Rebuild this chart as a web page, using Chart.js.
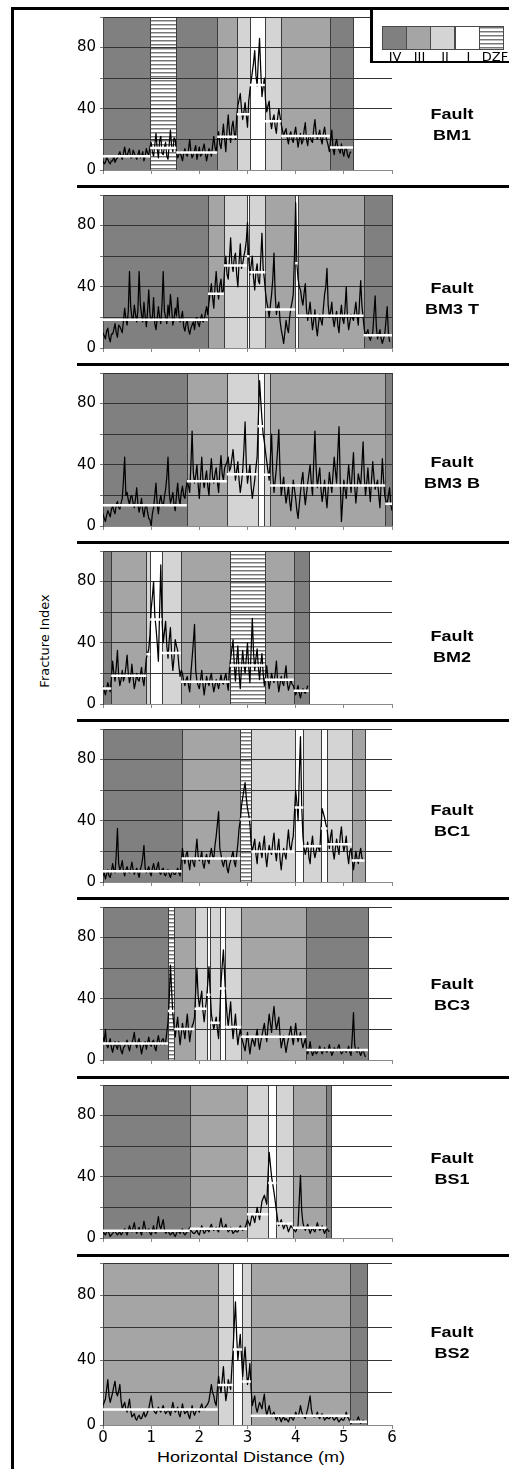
<!DOCTYPE html>
<html lang="en">

<head>
    <meta charset="UTF-8">
    <title>Fracture Index | Faults</title>
    <script src="https://cdn.jsdelivr.net/npm/chart.js"></script>
    <style>
        body {
            margin: 0;
            width: 509px;
            height: 1469px;
            position: relative;
            overflow: hidden;
            background: #fff;
            font-family: 'Liberation Sans', Arial, sans-serif;
        }

        canvas { position: absolute; left: 0; }

        .linha { position: absolute; background: #000; z-index: 3; }

        .texto {
            position: absolute;
            white-space: nowrap;
            color: #000;
            transform: translate(-50%, -50%) scaleX(1.2);
        }

        .falha { font-weight: bold; font-size: 15px; line-height: 15px; }

        #legenda {
            position: absolute;
            left: 370px;
            top: 7px;
            width: 139px;
            height: 56px;
            box-sizing: border-box;
            border-left: 3px solid #000;
            border-bottom: 2.5px solid #000;
            background: #fff;
            z-index: 2;
        }

        .amostra {
            position: absolute;
            top: 19px;
            width: 25px;
            height: 24px;
            box-sizing: border-box;
            border: 1px solid #4a4a4a;
        }

        .rotuloZona {
            position: absolute;
            top: 49px;
            transform: translate(-50%, -50%);
            font-family: 'DejaVu Sans', sans-serif;
            font-size: 13px;
            line-height: 13px;
            color: #000;
        }
    </style>
</head>

<body>
    <!-- moldura da figura -->
    <div class="linha" style="left:11px; top:7px; width:498px; height:3px;"></div>
    <div class="linha" style="left:11px; top:7px; width:3px; height:1462px;"></div>

    <!-- legenda das zonas -->
    <div id="legenda"></div>

    <div style="position:absolute; left:44px; top:641px; white-space:nowrap; font-family:'DejaVu Sans', sans-serif; font-size:13px; color:#000; transform: translate(-50%, -50%) rotate(-90deg);">Fracture Index</div>
    <div class="texto" style="left:251px; top:1456px; font-size:15px;">Horizontal Distance (m)</div>

    <div id="paineis"></div>
</body>

</html>

<script>
    // distancia entre leituras (m)
    const passo = 0.025;

    const nomesFalhas = ['BM1', 'BM3 T', 'BM3 B', 'BM2', 'BC1', 'BC3', 'BS1', 'BS2'];
    const ticksY = [0, 40, 80];
    const ticksX = [0, 1, 2, 3, 4, 5, 6];
    const nomesZonas = ['IV', 'III', 'II', 'I', 'DZF'];

    // Fault BM1
    const indiceBM1 = [6, 4, 5, 8, 7, 5, 4, 6, 6, 9, 5, 7, 8, 10, 12, 9, 7, 11, 15, 10,
        9, 12, 14, 8, 8, 13, 11, 9, 7, 10, 13, 8, 9, 12, 6, 9, 14, 11, 10, 15,
        18, 12, 9, 16, 24, 14, 8, 19, 22, 11, 10, 15, 18, 9, 7, 17, 26, 15, 12, 21,
        20, 11, 8, 10, 12, 9, 6, 11, 14, 10, 9, 13, 20, 12, 8, 10, 13, 16, 7, 11,
        15, 9, 10, 14, 17, 11, 6, 10, 14, 12, 9, 16, 22, 15, 12, 19, 25, 17, 14, 22,
        30, 20, 12, 26, 36, 25, 18, 28, 32, 24, 20, 35, 42, 46, 50, 40, 33, 38, 44, 36,
        28, 45, 52, 58, 64, 70, 78, 62, 55, 72, 86, 65, 48, 54, 60, 45, 38, 42, 45, 32,
        27, 33, 36, 28, 24, 34, 40, 35, 30, 26, 22, 25, 27, 21, 17, 23, 25, 20, 18, 24,
        28, 21, 15, 20, 24, 17, 19, 26, 31, 20, 16, 23, 22, 19, 18, 27, 33, 24, 20, 23,
        26, 20, 17, 24, 28, 22, 19, 16, 12, 20, 26, 14, 10, 17, 20, 15, 13, 11, 17, 12,
        9, 14, 15, 10, 8, 11, 12];
    const limitesBM1 = [0, 0.98, 1.52, 2.37, 2.78, 3.05, 3.36, 3.70, 4.71, 5.19];
    const zonasBM1 = ['IV', 'DZF', 'IV', 'III', 'II', 'I', 'II', 'III', 'IV'];
    const mediasBM1 = [9, 14.3, 11.5, 21.8, 36.5, 55.5, 31.9, 22.2, 14.7];

    // Fault BM3 T
    const indiceBM3T = [10, 8, 6, 11, 13, 7, 4, 9, 9, 12, 16, 10, 7, 15, 14, 12, 10, 18, 26, 19,
        15, 24, 50, 27, 20, 18, 28, 22, 17, 25, 50, 29, 22, 17, 30, 21, 14, 24, 38, 22,
        18, 20, 33, 16, 12, 19, 27, 20, 16, 28, 50, 24, 20, 16, 28, 21, 35, 26, 15, 19,
        26, 21, 33, 22, 17, 20, 24, 14, 11, 16, 18, 12, 9, 13, 15, 17, 12, 19, 20, 16,
        14, 19, 22, 17, 18, 23, 27, 22, 30, 36, 42, 33, 26, 40, 50, 38, 32, 41, 45, 35,
        38, 52, 60, 48, 45, 58, 72, 55, 50, 59, 62, 48, 40, 56, 68, 52, 55, 60, 64, 70,
        82, 58, 48, 54, 60, 46, 38, 50, 55, 44, 42, 58, 75, 52, 45, 36, 30, 26, 20, 28,
        35, 45, 62, 35, 22, 27, 30, 18, 12, 8, 3, 10, 18, 13, 10, 20, 26, 30, 35, 60,
        95, 55, 45, 40, 38, 32, 28, 36, 42, 25, 18, 24, 30, 20, 12, 18, 25, 14, 8, 16,
        22, 18, 15, 26, 35, 40, 52, 28, 20, 24, 30, 19, 14, 20, 24, 15, 10, 21, 28, 19,
        16, 26, 40, 20, 12, 17, 22, 20, 18, 24, 30, 21, 15, 30, 44, 28, 20, 12, 8, 10,
        12, 7, 5, 8, 10, 22, 34, 14, 6, 9, 12, 6, 3, 6, 9, 18, 27, 10, 4];
    const limitesBM3T = [0, 2.18, 2.51, 2.99, 3.04, 3.37, 3.99, 4.04, 5.41, 6.0];
    const zonasBM3T = ['IV', 'III', 'II', 'I', 'II', 'III', 'I', 'III', 'IV'];
    const mediasBM3T = [18.5, 35.4, 54, 60, 49.5, 25.2, 55.4, 21, 8.3];

    // Fault BM3 B
    const indiceBM3B = [8, 5, 3, 7, 10, 8, 6, 11, 13, 10, 8, 14, 16, 12, 11, 15, 18, 30, 45, 20,
        22, 17, 14, 19, 20, 15, 12, 18, 25, 14, 9, 13, 18, 10, 6, 12, 14, 9, 5, 4,
        0, 8, 12, 20, 28, 14, 8, 16, 20, 15, 13, 19, 24, 32, 45, 22, 15, 18, 22, 14,
        10, 20, 28, 18, 14, 22, 26, 20, 18, 25, 30, 26, 22, 40, 62, 35, 28, 33, 40, 27,
        18, 32, 45, 30, 25, 31, 36, 26, 20, 35, 44, 32, 28, 34, 38, 29, 22, 36, 46, 34,
        30, 38, 40, 42, 45, 36, 38, 44, 50, 40, 30, 36, 42, 30, 22, 28, 36, 50, 68, 40,
        28, 34, 40, 26, 18, 24, 30, 38, 45, 70, 95, 82, 70, 60, 55, 48, 42, 36, 30, 45,
        60, 35, 22, 30, 38, 50, 63, 36, 20, 26, 32, 22, 15, 20, 26, 16, 10, 20, 30, 24,
        18, 10, 5, 14, 22, 30, 35, 22, 14, 21, 28, 34, 40, 28, 20, 42, 62, 38, 25, 32,
        38, 24, 16, 22, 30, 20, 12, 24, 35, 28, 22, 34, 45, 36, 28, 48, 65, 30, 3, 16,
        30, 24, 18, 30, 40, 30, 22, 36, 48, 26, 15, 24, 34, 30, 26, 40, 55, 32, 20, 28,
        38, 26, 16, 30, 42, 32, 24, 27, 30, 20, 12, 28, 44, 30, 20, 16, 15, 20, 25, 14,
        10];
    const limitesBM3B = [0, 1.74, 2.57, 3.21, 3.34, 3.47, 5.86, 6.0];
    const zonasBM3B = ['IV', 'III', 'II', 'I', 'II', 'III', 'IV'];
    const mediasBM3B = [13.6, 29.2, 33.9, 65.2, 33.5, 26.4, 14.6];

    // Fault BM2
    const indiceBM2 = [12, 9, 6, 10, 14, 11, 8, 17, 28, 20, 15, 24, 35, 18, 12, 16, 22, 15, 18, 24,
        32, 20, 14, 18, 26, 17, 10, 14, 20, 16, 15, 19, 24, 16, 12, 21, 30, 33, 36, 45,
        62, 70, 80, 58, 50, 40, 28, 60, 91, 55, 40, 47, 54, 38, 30, 42, 50, 32, 22, 30,
        42, 38, 35, 25, 18, 22, 20, 15, 12, 16, 18, 12, 8, 20, 30, 40, 52, 22, 15, 12,
        10, 16, 22, 13, 6, 12, 18, 14, 12, 17, 20, 13, 8, 12, 16, 13, 10, 15, 19, 14,
        13, 17, 20, 14, 9, 22, 30, 36, 42, 26, 15, 28, 38, 20, 10, 24, 35, 26, 20, 30,
        40, 24, 14, 35, 56, 34, 22, 30, 36, 24, 16, 26, 33, 20, 12, 18, 25, 16, 10, 15,
        20, 16, 14, 20, 28, 15, 8, 13, 18, 14, 12, 19, 25, 14, 9, 12, 16, 13, 12, 9,
        6, 9, 12, 7, 4, 8, 10, 8, 7, 9, 12];
    const limitesBM2 = [0, 0.17, 0.90, 0.98, 1.22, 1.62, 2.63, 3.36, 3.96, 4.27];
    const zonasBM2 = ['IV', 'III', 'II', 'I', 'II', 'III', 'DZF', 'III', 'IV'];
    const mediasBM2 = [10.2, 18.5, 32.5, 55.2, 33.3, 14.6, 25.2, 15.8, 8.7];

    // Fault BC1
    const indiceBC1 = [4, 6, 2, 5, 8, 4, 3, 7, 12, 8, 6, 18, 35, 12, 8, 10, 14, 7, 4, 8,
        10, 7, 6, 9, 13, 8, 5, 7, 9, 6, 3, 8, 11, 16, 24, 9, 6, 8, 10, 6,
        4, 9, 12, 8, 7, 10, 13, 6, 5, 8, 9, 5, 4, 7, 8, 5, 3, 6, 7, 5,
        5, 7, 9, 6, 4, 14, 22, 16, 12, 18, 20, 13, 8, 15, 16, 12, 10, 20, 28, 17,
        14, 16, 20, 12, 9, 15, 18, 14, 12, 18, 22, 17, 15, 24, 30, 38, 46, 22, 18, 13,
        10, 14, 16, 9, 6, 11, 14, 17, 20, 13, 10, 18, 25, 35, 40, 50, 55, 60, 65, 55,
        48, 44, 38, 25, 20, 24, 28, 18, 12, 22, 26, 20, 16, 24, 30, 17, 10, 18, 24, 20,
        18, 26, 32, 20, 14, 22, 28, 15, 8, 16, 22, 18, 15, 26, 34, 24, 20, 26, 30, 45,
        60, 52, 40, 70, 95, 50, 30, 22, 18, 22, 26, 16, 12, 24, 30, 20, 16, 20, 24, 22,
        20, 35, 48, 45, 42, 38, 35, 28, 22, 30, 34, 20, 15, 22, 28, 22, 18, 30, 36, 26,
        20, 24, 30, 18, 12, 20, 22, 14, 8, 14, 20, 15, 12, 18, 22, 16, 14];
    const limitesBC1 = [0, 1.63, 2.85, 3.08, 3.98, 4.16, 4.53, 4.66, 5.16, 5.43];
    const zonasBC1 = ['IV', 'III', 'DZF', 'II', 'I', 'II', 'I', 'II', 'III'];
    const mediasBC1 = [7.1, 15.4, 41, 20, 48.7, 23.3, 34.9, 24.7, 14];

    // Fault BC3
    const indiceBC3 = [15, 12, 20, 10, 8, 11, 14, 8, 5, 9, 12, 9, 7, 12, 10, 6, 4, 8, 9, 11,
        13, 9, 6, 10, 11, 14, 18, 11, 8, 12, 14, 9, 4, 8, 10, 12, 7, 11, 15, 10,
        9, 12, 13, 8, 6, 12, 16, 11, 10, 13, 14, 10, 12, 18, 25, 40, 62, 45, 30, 22,
        15, 22, 28, 18, 10, 17, 24, 19, 14, 22, 30, 20, 12, 18, 22, 24, 28, 45, 60, 42,
        35, 40, 45, 32, 25, 33, 40, 50, 61, 45, 30, 25, 20, 24, 28, 20, 14, 30, 50, 62,
        72, 55, 40, 30, 22, 30, 38, 24, 14, 22, 30, 18, 10, 16, 20, 15, 12, 9, 6, 12,
        18, 10, 4, 10, 14, 12, 9, 15, 20, 12, 7, 12, 16, 20, 24, 17, 12, 22, 30, 24,
        18, 28, 35, 26, 20, 24, 28, 16, 8, 12, 16, 10, 5, 10, 14, 18, 22, 15, 10, 17,
        24, 16, 12, 15, 18, 12, 8, 11, 14, 8, 4, 7, 12, 6, 3, 5, 7, 4, 5, 7,
        9, 6, 4, 6, 8, 6, 5, 7, 10, 6, 3, 5, 8, 7, 6, 8, 10, 6, 4, 5,
        7, 6, 5, 7, 9, 5, 3, 15, 31, 10, 6, 5, 8, 5, 3, 5, 7, 4, 2];
    const limitesBC3 = [0, 1.35, 1.48, 1.90, 2.15, 2.23, 2.42, 2.54, 2.87, 4.22, 5.50];
    const zonasBC3 = ['IV', 'DZF', 'III', 'II', 'I', 'II', 'I', 'II', 'III', 'IV'];
    const mediasBC3 = [10.8, 32, 20.3, 33.5, 42.6, 24.3, 46.7, 21.5, 15.2, 6.5];

    // Fault BS1
    const indiceBS1 = [4, 3, 2, 4, 5, 3, 1, 2, 3, 4, 5, 3, 2, 3, 4, 2, 3, 5, 6, 4,
        2, 5, 8, 5, 4, 7, 10, 5, 3, 5, 7, 4, 2, 6, 11, 7, 4, 5, 6, 3,
        2, 5, 8, 4, 3, 9, 14, 8, 6, 9, 12, 6, 3, 4, 5, 3, 2, 3, 4, 2,
        1, 3, 5, 4, 3, 5, 6, 3, 2, 3, 4, 5, 7, 5, 4, 3, 3, 4, 5, 3,
        2, 5, 8, 5, 3, 4, 6, 5, 4, 7, 9, 6, 5, 6, 7, 5, 4, 9, 13, 8,
        6, 7, 9, 6, 4, 5, 7, 5, 3, 4, 5, 4, 4, 6, 8, 6, 5, 6, 7, 9,
        12, 10, 8, 12, 16, 13, 10, 15, 20, 16, 12, 18, 24, 26, 28, 25, 22, 40, 56, 48,
        40, 35, 30, 24, 18, 12, 8, 10, 12, 9, 6, 8, 10, 7, 4, 6, 8, 7, 6, 5,
        4, 6, 8, 25, 41, 18, 10, 7, 5, 7, 9, 6, 3, 5, 7, 5, 4, 7, 10, 7,
        5, 6, 8, 5, 3, 5, 6, 5, 4];
    const limitesBS1 = [0, 1.80, 2.99, 3.43, 3.60, 3.94, 4.64, 4.74];
    const zonasBS1 = ['IV', 'III', 'II', 'I', 'II', 'III', 'IV'];
    const mediasBS1 = [4.7, 6.1, 15.5, 36, 9.4, 6.7, null];

    // Fault BS2
    const indiceBS2 = [12, 14, 16, 22, 28, 18, 14, 17, 20, 24, 27, 20, 18, 21, 25, 15, 10, 12, 14, 10,
        8, 12, 16, 9, 5, 6, 7, 4, 3, 5, 6, 4, 4, 6, 8, 5, 6, 8, 10, 14,
        18, 12, 9, 8, 7, 9, 11, 9, 8, 10, 12, 9, 7, 8, 10, 8, 6, 10, 14, 10,
        8, 9, 11, 7, 5, 9, 13, 9, 7, 8, 9, 6, 4, 8, 12, 8, 6, 8, 10, 9,
        8, 11, 13, 10, 9, 11, 12, 13, 15, 20, 25, 20, 18, 14, 12, 22, 30, 24, 20, 28,
        36, 24, 15, 20, 28, 25, 22, 35, 46, 62, 76, 55, 40, 48, 56, 42, 30, 40, 48, 35,
        25, 30, 38, 22, 12, 15, 18, 11, 8, 11, 14, 12, 10, 15, 19, 10, 6, 9, 12, 8,
        5, 7, 8, 5, 3, 5, 6, 4, 2, 4, 5, 3, 4, 3, 2, 4, 6, 4, 3, 5,
        8, 6, 5, 8, 12, 8, 6, 5, 4, 7, 10, 14, 18, 10, 6, 5, 5, 6, 8, 5,
        4, 6, 7, 5, 3, 4, 5, 4, 4, 5, 6, 4, 3, 4, 5, 3, 2, 3, 4, 3,
        3, 5, 8, 5, 4, 2, 1, 2, 3, 2, 2, 3, 5, 3, 1, 2, 3, 2, 2];
    const limitesBS2 = [0, 2.38, 2.70, 2.89, 3.07, 5.12, 5.48];
    const zonasBS2 = ['III', 'II', 'I', 'II', 'III', 'IV'];
    const mediasBS2 = [9.5, 24.7, 46.6, 26.9, 5.7, 2];

    const coresZonas = { IV: '#808080', III: '#a5a5a5', II: '#d4d4d4', I: '#ffffff' };
    const fonteTicks = { family: 'DejaVu Sans', size: 15 };

    // listras horizontais da zona DZF
    function padraoListras(ctx) {
        const c = document.createElement('canvas');
        c.width = 4;
        c.height = 4;
        const g = c.getContext('2d');
        g.fillStyle = '#ffffff';
        g.fillRect(0, 0, 4, 4);
        g.fillStyle = '#777777';
        g.fillRect(0, 0, 4, 1);
        g.fillStyle = '#bdbdbd';
        g.fillRect(0, 1, 4, 1);
        return ctx.createPattern(c, 'repeat');
    }

    function segmentosMedia(limites, medias) {
        let pontos = [];
        medias.forEach(function (m, i) {
            if (m === null) return;
            pontos.push({ x: limites[i], y: m });
            pontos.push({ x: limites[i + 1], y: m });
            pontos.push({ x: limites[i + 1], y: null });
        });
        return pontos;
    }

    function montarLegenda() {
        const legenda = document.getElementById('legenda');
        // posicoes relativas a caixa da legenda (left 370)
        const centros = [22, 46.5, 72, 95.5, 122];
        nomesZonas.forEach(function (z, k) {
            let caixa = document.createElement('div');
            caixa.className = 'amostra';
            caixa.style.left = (9 + 24.2 * k) + 'px';
            if (z === 'DZF') {
                caixa.style.background = 'repeating-linear-gradient(to bottom, #777 0 1px, #bdbdbd 1px 2px, #fff 2px 4px)';
            } else {
                caixa.style.background = coresZonas[z];
            }
            legenda.appendChild(caixa);

            let rotulo = document.createElement('div');
            rotulo.className = 'rotuloZona';
            rotulo.style.left = centros[k] + 'px';
            rotulo.textContent = z;
            legenda.appendChild(rotulo);
        });
    }

    function plotarPainel(n, indice, limites, zonas, medias) {
        const ultimo = n === nomesFalhas.length - 1;
        const zero = 179 + 178 * n;
        const paineis = document.getElementById('paineis');

        let canvas = document.createElement('canvas');
        canvas.width = 509;
        canvas.height = ultimo ? 195 : 179;
        canvas.style.top = (zero - 175) + 'px';
        paineis.appendChild(canvas);

        // separador abaixo de cada painel
        if (!ultimo) {
            let sep = document.createElement('div');
            sep.className = 'linha';
            sep.style.left = '77px';
            sep.style.width = '432px';
            sep.style.top = Math.round(zero + 5.5 + 0.2 * n) + 'px';
            sep.style.height = '3px';
            paineis.appendChild(sep);
        }

        // nome da falha
        let nome = document.createElement('div');
        nome.className = 'texto falha';
        nome.style.left = '452px';
        nome.style.top = (113.5 + 174 * n + 10.5) + 'px';
        nome.style.textAlign = 'center';
        nome.style.lineHeight = '21px';
        nome.innerHTML = 'Fault<br>' + nomesFalhas[n];
        paineis.appendChild(nome);

        // zonas de fundo, desenhadas antes da grade
        const fundoZonas = {
            id: 'fundoZonas',
            beforeDraw(chart) {
                const ctx = chart.ctx;
                const x = chart.scales.x;
                const y = chart.scales.y;
                const topo = Math.round(y.getPixelForValue(100));
                const base = Math.round(y.getPixelForValue(0));
                ctx.save();
                for (let i = 0; i < zonas.length; i++) {
                    const x0 = Math.round(x.getPixelForValue(limites[i]));
                    const x1 = Math.round(x.getPixelForValue(limites[i + 1]));
                    ctx.fillStyle = zonas[i] === 'DZF' ? padraoListras(ctx) : coresZonas[zonas[i]];
                    ctx.fillRect(x0, topo, x1 - x0, base - topo);
                    ctx.strokeStyle = '#3c3c3c';
                    ctx.lineWidth = 1;
                    ctx.strokeRect(x0 + 0.5, topo + 0.5, x1 - x0, base - topo);
                }
                ctx.restore();
            }
        };

        const pontos = indice.map(function (v, i) {
            return { x: Math.round(i * passo * 1000) / 1000, y: v };
        });

        const config = {
            type: 'line',
            data: {
                datasets: [{
                    label: 'Mean',
                    data: segmentosMedia(limites, medias),
                    borderColor: '#ffffff',
                    borderWidth: 2.5,
                    pointRadius: 0,
                    spanGaps: false,
                }, {
                    label: 'Fracture Index',
                    data: pontos,
                    borderColor: '#000000',
                    borderWidth: 1.25,
                    borderJoinStyle: 'round',
                    pointRadius: 0,
                    tension: 0,
                }],
            },
            options: {
                responsive: false,
                animation: false,
                devicePixelRatio: 1,
                layout: { padding: { left: 0, right: 117, top: 10, bottom: 0 } },
                plugins: {
                    legend: { display: false },
                    tooltip: { enabled: false },
                },
                scales: {
                    x: {
                        type: 'linear',
                        min: ticksX[0],
                        max: ticksX[ticksX.length - 1],
                        ticks: {
                            stepSize: 1,
                            display: ultimo,
                            color: '#000',
                            font: fonteTicks,
                            padding: 0,
                            maxRotation: 0,
                        },
                        grid: { drawOnChartArea: false, tickLength: 4, color: '#888' },
                        border: { color: '#8a8a8a' },
                        afterFit: function (s) { s.height = ultimo ? 20 : 4; },
                    },
                    y: {
                        min: 0,
                        max: 100,
                        ticks: {
                            stepSize: 20,
                            color: '#000',
                            font: fonteTicks,
                            padding: 4,
                            callback: function (v) { return ticksY.includes(v) ? v : ''; },
                        },
                        grid: {
                            color: function (c) { return c.tick && c.tick.value === 0 ? '#8a8a8a' : '#333333'; },
                            tickLength: 3,
                            tickColor: '#777',
                        },
                        border: { color: '#444' },
                        afterFit: function (s) { s.width = 103; },
                    },
                },
            },
            plugins: [fundoZonas],
        };

        new Chart(canvas, config);
    }

    montarLegenda();
    plotarPainel(0, indiceBM1, limitesBM1, zonasBM1, mediasBM1);
    plotarPainel(1, indiceBM3T, limitesBM3T, zonasBM3T, mediasBM3T);
    plotarPainel(2, indiceBM3B, limitesBM3B, zonasBM3B, mediasBM3B);
    plotarPainel(3, indiceBM2, limitesBM2, zonasBM2, mediasBM2);
    plotarPainel(4, indiceBC1, limitesBC1, zonasBC1, mediasBC1);
    plotarPainel(5, indiceBC3, limitesBC3, zonasBC3, mediasBC3);
    plotarPainel(6, indiceBS1, limitesBS1, zonasBS1, mediasBS1);
    plotarPainel(7, indiceBS2, limitesBS2, zonasBS2, mediasBS2);
</script>
